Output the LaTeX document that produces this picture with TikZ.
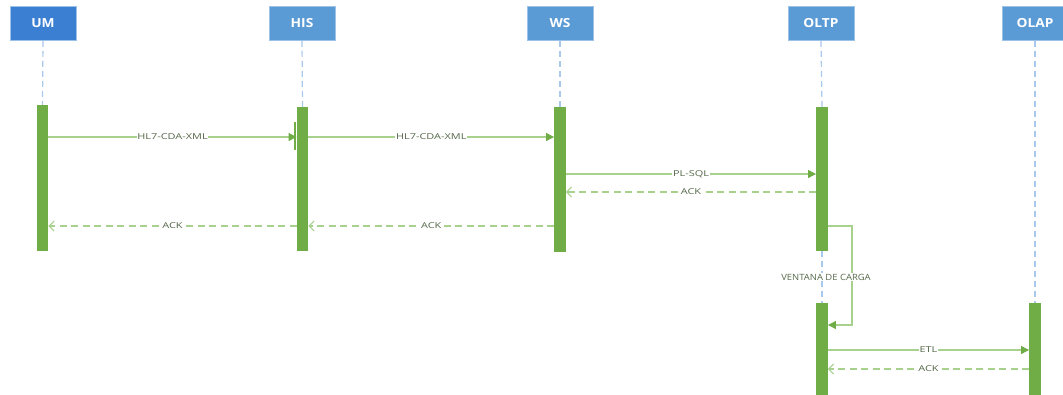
\documentclass[tikz,border=0pt]{standalone}
\usepackage{fontspec}
\setmainfont{Open Sans}
\usetikzlibrary{arrows.meta}
\definecolor{hdrdark}{HTML}{3A7FD2}
\definecolor{hdrblue}{HTML}{5B9BD5}
\definecolor{hdredge}{HTML}{9CC2E8}
\definecolor{barg}{HTML}{70AD47}
\definecolor{msgg}{HTML}{A9D18E}
\definecolor{lifeb}{HTML}{A8C9EB}
\definecolor{lbl}{HTML}{55694A}
\tikzset{
  hdr/.style={rectangle, fill=hdrblue, draw=hdredge, line width=0.8pt,
    minimum width=66pt, minimum height=34pt, inner sep=0pt,
    text=white, font=\fontsize{12.5}{13}\selectfont\bfseries},
  actbar/.style={rectangle, fill=barg, draw=none, minimum width=11.5pt,
    inner sep=0pt, anchor=north},
  lifeline/.style={draw=lifeb, line width=1.2pt, dash pattern=on 6pt off 4pt},
  msg/.style={draw=msgg, line width=1.2pt,
    -{Triangle[length=8pt,width=8pt,fill=barg,color=barg]}},
  ack/.style={draw=msgg, line width=1.5pt, dash pattern=on 7pt off 4.5pt,
    -{Straight Barb[length=5pt,width=10pt,line width=1pt,color=msgg]}},
  lab/.style={fill=white, inner sep=0.6pt, text=lbl,
    font=\fontsize{8.1}{8.5}\selectfont}
}
\newcommand{\wide}[1]{\scalebox{1.35}[1]{#1}}
\begin{document}
\begin{tikzpicture}[x=1pt,y=-1pt]
\useasboundingbox (0,0) rectangle (1063,395);
\fill[white] (0,0) rectangle (1063,395);

% participants
\node[hdr, fill=hdrdark] (um) at (43,23.5) {\scalebox{1.1}[1]{UM}};
\node[hdr] (his)  at (302,23.5) {\scalebox{1.1}[1]{HIS}};
\node[hdr] (ws)   at (560,23.5) {\scalebox{1.1}[1]{WS}};
\node[hdr] (oltp) at (821,23.5) {\scalebox{1.1}[1]{OLTP}};
\node[hdr] (olap) at (1035,23.5) {\scalebox{1.1}[1]{OLAP}};

% activation bars
\node[actbar, minimum height=146pt] (umA)   at (42.5,105) {};
\node[actbar, minimum height=144pt] (hisA)  at (302.5,107) {};
\node[actbar, minimum height=145pt] (wsA)   at (560,107) {};
\node[actbar, minimum height=144pt] (oltpA) at (822,107) {};
\node[actbar, minimum height=93pt]  (oltpB) at (822,303) {};
\node[actbar, minimum height=93pt]  (olapA) at (1035,303) {};
\node[rectangle, fill=barg, inner sep=0pt, minimum width=2.5pt,
  minimum height=28pt, anchor=north east] (hisN) at (hisA.west |- 0,122) {};

% lifelines
\draw[lifeline] (um.south)   -- (umA.north);
\draw[lifeline] (his.south)  -- (hisA.north);
\draw[lifeline] (ws.south)   -- (wsA.north);
\draw[lifeline] (oltp.south) -- (oltpA.north);
\draw[lifeline] (oltpA.south) -- (oltpB.north);
\draw[lifeline] (olap.south) -- (olapA.north);

% message rows
\coordinate (r1) at (0,137);
\coordinate (r2) at (0,174);
\coordinate (r3) at (0,192);
\coordinate (r4) at (0,226);
\coordinate (r5) at (0,325);
\coordinate (r6) at (0,350);
\coordinate (r7) at (0,369);
\coordinate (s1) at (852,226);
\coordinate (s2) at (852,325);

% messages
\draw[msg] (umA.east |- r1) -- node[lab] {\wide{HL7-CDA-XML}} (hisA.west |- r1);
\draw[msg] (hisA.east |- r1) -- node[lab] {\wide{HL7-CDA-XML}} (wsA.west |- r1);
\draw[msg] (wsA.east |- r2) -- node[lab] {\wide{PL-SQL}} (oltpA.west |- r2);
\draw[ack] (oltpA.west |- r3) -- node[lab] {\wide{ACK}} (wsA.east |- r3);
\draw[ack] (wsA.west |- r4) -- node[lab] {\wide{ACK}} (hisA.east |- r4);
\draw[ack] (hisA.west |- r4) -- node[lab] {\wide{ACK}} (umA.east |- r4);

% self call on OLTP
\draw[msg] (oltpA.east |- r4) -- (s1) -- (s2) -- (oltpB.east |- r5);
\node[lab, font=\fontsize{8.6}{9}\selectfont] (vent) at (826,277)
  {\scalebox{1.1}[1]{VENTANA DE CARGA}};

% OLTP to OLAP
\draw[msg] (oltpB.east |- r6) -- node[lab] {\wide{ETL}} (olapA.west |- r6);
\draw[ack] (olapA.west |- r7) -- node[lab] {\wide{ACK}} (oltpB.east |- r7);
\end{tikzpicture}
\end{document}
